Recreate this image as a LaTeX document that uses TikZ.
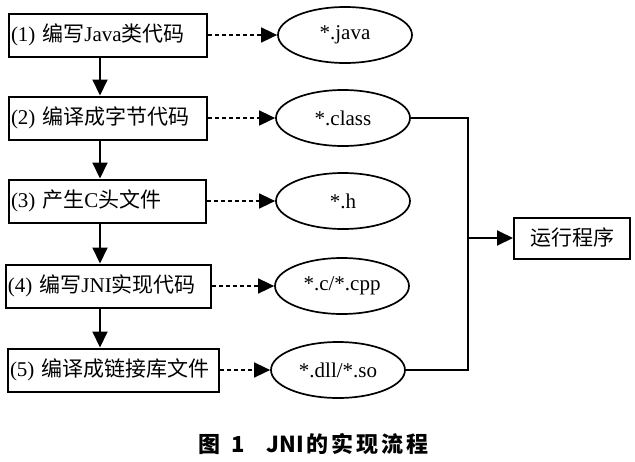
\documentclass[tikz,border=0pt]{standalone}
\usepackage{fontspec}
\setmainfont{Liberation Serif}
\newfontfamily\cjk{Noto Sans CJK SC}
\newfontfamily\capfont{Noto Sans CJK SC Black}
\usetikzlibrary{arrows.meta,shapes.geometric}
\newcommand{\zh}[1]{{\cjk #1}}
\begin{document}
\begin{tikzpicture}[x=1pt,y=-1pt,
  every node/.style={font=\fontsize{21}{24}\selectfont},
  stepbox/.style={draw,line width=2pt,minimum height=43pt,inner xsep=2pt,inner ysep=0pt,anchor=west,align=left},
  filebox/.style={draw,ellipse,line width=1.7pt,minimum width=134pt,minimum height=56pt,inner sep=0pt},
  flow/.style={line width=2pt,-{Triangle[length=16pt,width=15pt]}},
  dep/.style={line width=1.5pt,dash pattern=on 4pt off 3pt,-{Triangle[length=16pt,width=15pt]}},
  joinline/.style={line width=1.8pt}]
\useasboundingbox (0,0) rectangle (635,461);
\node[stepbox,text width=194pt] (s1) at (8,35) {(1) \zh{编写}Java\zh{类代码}};
\node[stepbox,text width=194pt] (s2) at (8,118) {(2) \zh{编译成字节代码}};
\node[stepbox,text width=193pt] (s3) at (8,201) {(3) \zh{产生}C\zh{头文件}};
\node[stepbox,text width=201pt] (s4) at (5,286) {(4) \zh{编写}JNI\zh{实现代码}};
\node[stepbox,text width=207pt] (s5) at (7,370) {(5) \zh{编译成链接库文件}};
\node[filebox] (f1) at (345,35) {*.java};
\node[filebox] (f2) at (343,118) {*.class};
\node[filebox] (f3) at (343,201) {*.h};
\node[filebox] (f4) at (342,286) {*.c/*.cpp};
\node[filebox] (f5) at (338,370) {*.dll/*.so};
\node[draw,line width=2pt,minimum width=116pt,minimum height=41pt,inner sep=0pt] (run) at (572,238) {\zh{运行程序}};
\coordinate (j) at (468,238);
\draw[flow] (s1.south -| 100,0) -- (s2.north -| 100,0);
\draw[flow] (s2.south -| 100,0) -- (s3.north -| 100,0);
\draw[flow] (s3.south -| 100,0) -- (s4.north -| 100,0);
\draw[flow] (s4.south -| 100,0) -- (s5.north -| 100,0);
\draw[dep] (s1.east) -- (f1.west);
\draw[dep] (s2.east) -- (f2.west);
\draw[dep] (s3.east) -- (f3.west);
\draw[dep] (s4.east) -- (f4.west);
\draw[dep] (s5.east) -- (f5.west);
\draw[joinline] (f2.east) -| (j) |- (f5.east);
\draw[flow] (j) -- (run.west);
\node[font=\capfont\fontsize{22}{24}\selectfont,anchor=west,inner sep=0pt] (cap) at (198,444) {图\hspace{11pt}1\hspace{22pt}JNI\hspace{3pt}的\hspace{3pt}实\hspace{3pt}现\hspace{3pt}流\hspace{3pt}程};
\end{tikzpicture}
\end{document}
